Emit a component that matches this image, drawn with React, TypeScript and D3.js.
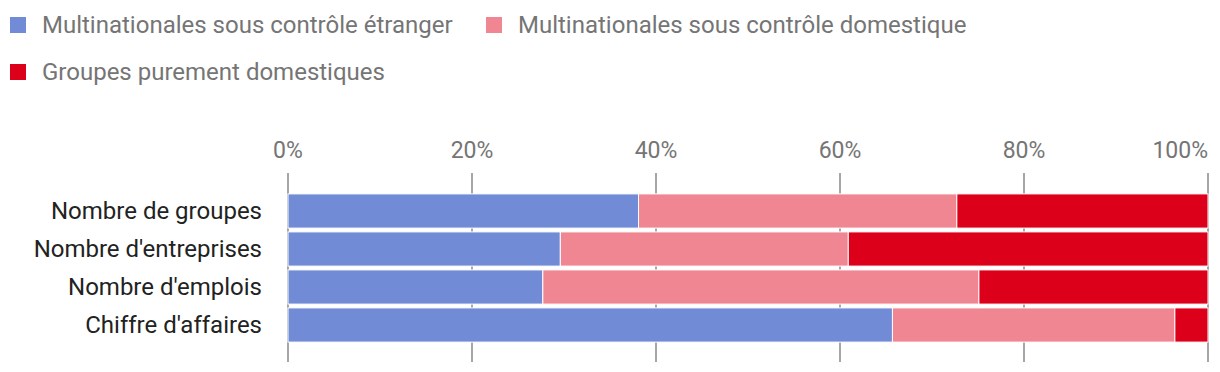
import { useEffect, useRef } from 'react';
import * as d3 from 'd3';

const categories = ["Nombre de groupes", "Nombre d'entreprises", "Nombre d'emplois", "Chiffre d'affaires"];
const seriesNames = [
  'Multinationales sous contrôle étranger',
  'Multinationales sous contrôle domestique',
  'Groupes purement domestiques',
];
const foreignMne = [38.1, 29.6, 27.7, 65.7];
const domesticMne = [34.6, 31.3, 47.4, 30.7];
const domesticGroups = [27.3, 39.1, 24.9, 3.6];
const ticks = [0, 20, 40, 60, 80, 100];
const colors = ['#718bd6', '#ef8691', '#dc001b'];

const App = () => {
  const ref = useRef<SVGSVGElement>(null);

  useEffect(() => {
    const svg = d3.select(ref.current);
    svg.selectAll('*').remove();

    const width = 1220;
    const height = 372;
    const font = 'Roboto, sans-serif';

    svg.attr('width', width).attr('height', height);

    const x = d3.scaleLinear().domain([0, 100]).range([288, 1208]);
    const y = d3.scaleBand().domain(categories).range([192, 344]).paddingInner(0.1).paddingOuter(0.05);

    // legend
    const legendPos = [
      [10, 17],
      [486, 17],
      [10, 64],
    ];
    seriesNames.forEach((name, i) => {
      const [lx, ly] = legendPos[i];
      svg.append('rect').attr('x', lx).attr('y', ly).attr('width', 16).attr('height', 16).attr('fill', colors[i]);
      svg.append('text')
        .attr('x', lx + 32)
        .attr('y', ly + 16)
        .attr('font-family', font)
        .attr('font-size', 24)
        .attr('fill', '#757575')
        .text(name);
    });

    // grid + tick labels
    svg.selectAll('line.grid')
      .data(ticks)
      .enter()
      .append('line')
      .attr('x1', (d) => x(d))
      .attr('x2', (d) => x(d))
      .attr('y1', 173)
      .attr('y2', 362)
      .attr('stroke', '#888')
      .attr('stroke-width', 1.5);

    svg.selectAll('text.tick')
      .data(ticks)
      .enter()
      .append('text')
      .attr('x', (d) => x(d))
      .attr('y', 158)
      .attr('text-anchor', (d) => (d === 100 ? 'end' : 'middle'))
      .attr('font-family', font)
      .attr('font-size', 23)
      .attr('fill', '#757575')
      .text((d) => `${d}%`);

    // stacked bars
    const rows = categories.map((c, i) => ({
      cat: c,
      a: foreignMne[i],
      b: domesticMne[i],
      c: domesticGroups[i],
    }));
    const stack = d3.stack<any>().keys(['a', 'b', 'c']);
    const layers = stack(rows);

    layers.forEach((layer, li) => {
      svg.append('g')
        .selectAll('rect')
        .data(layer)
        .enter()
        .append('rect')
        .attr('x', (d) => x(d[0]))
        .attr('width', (d) => x(d[1]) - x(d[0]))
        .attr('y', (d) => y(d.data.cat) as number)
        .attr('height', y.bandwidth())
        .attr('fill', colors[li])
        .attr('stroke', '#fff')
        .attr('stroke-width', 1);
    });

    // category labels
    svg.selectAll('text.cat')
      .data(categories)
      .enter()
      .append('text')
      .attr('x', 262)
      .attr('y', (d) => (y(d) as number) + y.bandwidth() / 2)
      .attr('dy', '0.35em')
      .attr('text-anchor', 'end')
      .attr('font-family', font)
      .attr('font-size', 24)
      .attr('fill', '#222')
      .text((d) => d);
  }, []);

  return <svg ref={ref} style={{ position: 'absolute', left: 0, top: 0 }}></svg>;
};

export default App;
